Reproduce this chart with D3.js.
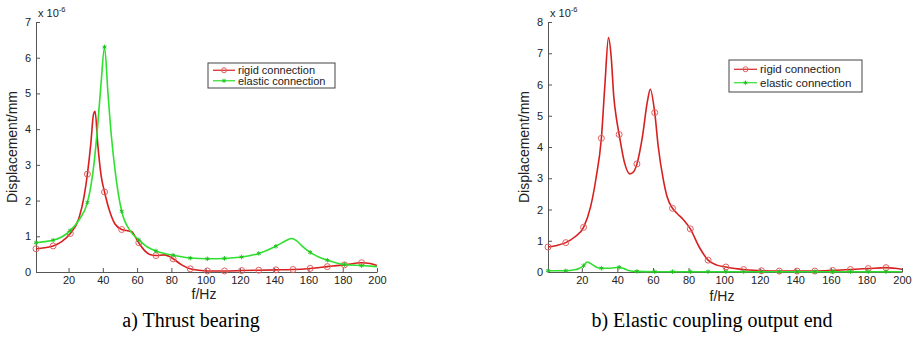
<!DOCTYPE html>
<html>
<head>
<meta charset="utf-8">
<script src="https://cdn.jsdelivr.net/npm/d3@7"></script>
<style>
  body { margin: 0; background: #fff; }
  svg { display: block; }
</style>
</head>
<body>
<svg id="chart" width="912" height="337"></svg>
<script>
// a) Thrust bearing
const freqA_rigid = [1, 6, 11, 16, 21, 26, 29, 31, 33, 34.5, 35.5, 37, 39, 41, 44, 47, 51, 55, 57, 59, 61, 64, 67, 71, 76, 79, 81, 86, 91, 96, 101, 111, 121, 131, 141, 151, 161, 171, 181, 191, 196, 200];
const rigidA = [0.65, 0.68, 0.73, 0.85, 1.08, 1.5, 2.1, 2.74, 3.6, 4.4, 4.5, 3.6, 2.7, 2.24, 1.7, 1.35, 1.19, 1.15, 1.13, 0.98, 0.82, 0.62, 0.5, 0.46, 0.48, 0.43, 0.37, 0.2, 0.09, 0.05, 0.03, 0.03, 0.04, 0.05, 0.06, 0.07, 0.1, 0.15, 0.2, 0.26, 0.24, 0.18];
const freqA_elastic = [1, 6, 11, 16, 21, 26, 31, 33, 35, 37, 39, 41, 43, 45, 47, 49, 51, 56, 61, 66, 71, 76, 81, 91, 101, 111, 121, 131, 141, 147, 150, 153, 156, 161, 166, 171, 181, 191, 200];
const elasticA = [0.82, 0.85, 0.89, 0.98, 1.16, 1.45, 1.95, 2.4, 3.1, 4.1, 5.3, 6.3, 5.0, 3.8, 2.9, 2.2, 1.7, 1.15, 0.9, 0.7, 0.59, 0.52, 0.47, 0.39, 0.37, 0.38, 0.42, 0.52, 0.72, 0.88, 0.94, 0.88, 0.74, 0.55, 0.42, 0.33, 0.21, 0.18, 0.15];

// b) Elastic coupling output end
const freqB_rigid = [1, 6, 11, 16, 21, 25, 28, 31, 33, 35, 36.5, 38, 39.5, 41, 44, 47, 49, 51, 54, 57, 58.5, 61, 63, 66, 68, 71, 74, 77, 81, 86, 91, 96, 101, 106, 111, 121, 131, 141, 151, 161, 171, 181, 191, 200];
const rigidB = [0.8, 0.85, 0.94, 1.12, 1.43, 2.1, 3.0, 4.28, 6.0, 7.5, 6.9, 5.6, 4.9, 4.4, 3.5, 3.14, 3.2, 3.46, 4.3, 5.5, 5.85, 5.1, 4.0, 2.9, 2.4, 2.04, 1.85, 1.68, 1.38, 0.8, 0.38, 0.22, 0.16, 0.11, 0.08, 0.04, 0.03, 0.03, 0.03, 0.05, 0.08, 0.11, 0.14, 0.09];
const freqB_elastic = [1, 11, 16, 19, 21, 23, 25, 28, 31, 36, 41, 44, 47, 51, 61, 71, 81, 91, 101, 111, 121, 131, 141, 151, 161, 171, 181, 191, 200];
const elasticB = [0.04, 0.04, 0.07, 0.13, 0.2, 0.32, 0.27, 0.16, 0.12, 0.12, 0.15, 0.1, 0.04, 0.02, 0.01, 0.01, 0.01, 0.01, 0.01, 0.01, 0.01, 0.01, 0.01, 0.01, 0.01, 0.01, 0.01, 0.01, 0.01];

const xTicks = [20, 40, 60, 80, 100, 120, 140, 160, 180, 200];
const seriesNames = ["rigid connection", "elastic connection"];
const captions = ["a) Thrust bearing", "b) Elastic coupling output end"];

const RED = "#d81f1f";
const GREEN = "#2fe02f";
const AXIS = "#555";

const svg = d3.select("#chart");

const toPoints = (fs, vs) => fs.map((f, i) => ({ f, v: vs[i] }));
// marqueurs tous les 10 Hz (1, 11, 21, ...)
const isMarker = d => (d.f - 1) % 10 === 0 && d.f < 200;

function drawPanel(opt) {
  const x = d3.scaleLinear().domain([1, 200]).range([opt.left, opt.right]);
  const y = d3.scaleLinear().domain([0, opt.yMax]).range([opt.bottom, opt.top]);

  const g = svg.append("g");

  // axes, ticks vers l'intérieur
  const gx = g.append("g")
    .attr("transform", `translate(0,${opt.bottom})`)
    .call(d3.axisBottom(x).tickValues(xTicks).tickSizeInner(-4).tickSizeOuter(0).tickPadding(4));
  const gy = g.append("g")
    .attr("transform", `translate(${opt.left},0)`)
    .call(d3.axisLeft(y).ticks(opt.yMax).tickSizeInner(-4).tickSizeOuter(0).tickPadding(5));

  [gx, gy].forEach(a => {
    a.selectAll("path, line").attr("stroke", AXIS);
    a.selectAll("text")
      .attr("fill", "#222")
      .style("font-family", "Liberation Sans, Arial, sans-serif")
      .style("font-size", "11px");
  });

  // x 10^-6
  const exp = g.append("text")
    .attr("x", opt.left + 2)
    .attr("y", opt.top - 5)
    .attr("fill", "#222")
    .style("font-family", "Liberation Sans, Arial, sans-serif")
    .style("font-size", "11px");
  exp.append("tspan").text("x 10");
  exp.append("tspan").attr("dy", -5).style("font-size", "7.5px").text("-6");

  g.append("text")
    .attr("x", opt.fhzX)
    .attr("y", opt.fhzY)
    .attr("text-anchor", "middle")
    .attr("fill", "#222")
    .style("font-family", "Liberation Sans, Arial, sans-serif")
    .style("font-size", "14px")
    .text("f/Hz");

  g.append("text")
    .attr("transform", `translate(${opt.left - 19},${(opt.top + opt.bottom) / 2}) rotate(-90)`)
    .attr("text-anchor", "middle")
    .attr("fill", "#222")
    .style("font-family", "Liberation Sans, Arial, sans-serif")
    .style("font-size", "14px")
    .text("Displacement/mm");

  const line = d3.line()
    .x(d => x(d.f))
    .y(d => y(d.v))
    .curve(d3.curveMonotoneX);

  const series = [
    { pts: toPoints(opt.freqRigid, opt.rigid), color: RED, marker: "circle" },
    { pts: toPoints(opt.freqElastic, opt.elastic), color: GREEN, marker: "star" }
  ];

  series.forEach(s => {
    g.append("path")
      .datum(s.pts)
      .attr("fill", "none")
      .attr("stroke", s.color)
      .attr("stroke-width", 1.6)
      .attr("d", line);

    const m = g.append("g").selectAll("g")
      .data(s.pts.filter(isMarker))
      .enter().append("g")
      .attr("transform", d => `translate(${x(d.f)},${y(d.v)})`);
    if (s.marker === "circle") {
      m.append("circle").attr("r", 3).attr("fill", "none")
        .attr("stroke", "#e06060").attr("stroke-width", 1);
    } else {
      m.append("path").attr("d", d3.symbol(d3.symbolAsterisk, 14))
        .attr("fill", "none").attr("stroke", "#22c022").attr("stroke-width", 1);
    }
  });

  // légende
  const L = opt.legend;
  const lg = g.append("g").attr("transform", `translate(${L.x},${L.y})`);
  lg.append("rect")
    .attr("width", L.w).attr("height", L.h)
    .attr("fill", "#fff").attr("stroke", "#444").attr("stroke-width", 1);
  seriesNames.forEach((name, i) => {
    const yy = L.h * (i === 0 ? 0.29 : 0.71);
    const color = i === 0 ? RED : GREEN;
    lg.append("line")
      .attr("x1", 5).attr("x2", L.lineW)
      .attr("y1", yy).attr("y2", yy)
      .attr("stroke", color).attr("stroke-width", 1.2);
    if (i === 0) {
      lg.append("circle").attr("cx", (5 + L.lineW) / 2).attr("cy", yy).attr("r", 2.5)
        .attr("fill", "none").attr("stroke", "#e06060");
    } else {
      lg.append("path").attr("transform", `translate(${(5 + L.lineW) / 2},${yy})`)
        .attr("d", d3.symbol(d3.symbolAsterisk, 12))
        .attr("fill", "none").attr("stroke", "#22c022");
    }
    lg.append("text")
      .attr("x", L.lineW + 3).attr("y", yy + 4)
      .attr("fill", "#222")
      .style("font-family", "Liberation Sans, Arial, sans-serif")
      .style("font-size", L.font)
      .text(name);
  });

  svg.append("text")
    .attr("x", opt.captionX)
    .attr("y", 327)
    .attr("text-anchor", "middle")
    .attr("fill", "#000")
    .style("font-family", "Liberation Serif, Times New Roman, serif")
    .style("font-size", "20px")
    .text(opt.caption);
}

drawPanel({
  left: 36, right: 377, top: 22, bottom: 272, yMax: 7,
  freqRigid: freqA_rigid, rigid: rigidA,
  freqElastic: freqA_elastic, elastic: elasticA,
  legend: { x: 208, y: 63, w: 127, h: 25, lineW: 27, font: "11px" },
  fhzX: 204, fhzY: 299,
  caption: captions[0], captionX: 191
});

drawPanel({
  left: 548, right: 902, top: 22, bottom: 272, yMax: 8,
  freqRigid: freqB_rigid, rigid: rigidB,
  freqElastic: freqB_elastic, elastic: elasticB,
  legend: { x: 729, y: 60, w: 133, h: 32, lineW: 28, font: "11.5px" },
  fhzX: 722, fhzY: 301,
  caption: captions[1], captionX: 712
});
</script>
</body>
</html>
